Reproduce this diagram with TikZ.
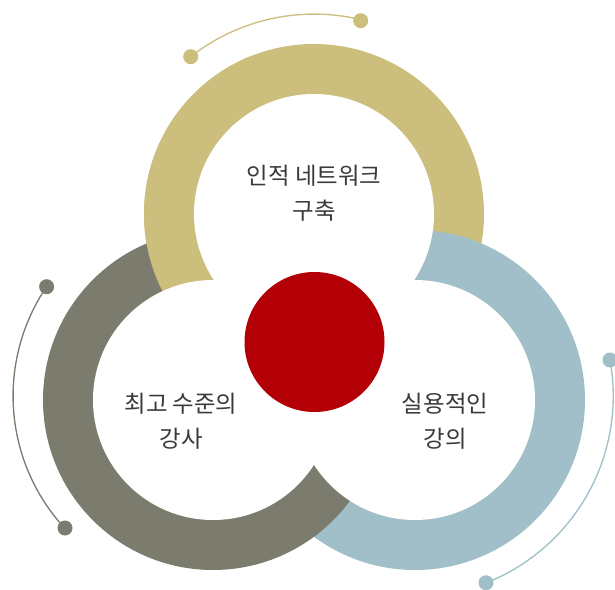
\documentclass[tikz,border=0pt]{standalone}
\usepackage{fontspec}
\newfontfamily\krfont{Noto Sans CJK KR}
\usepackage{tikz}
\definecolor{khaki}{HTML}{CCBE7D}
\definecolor{ringgray}{HTML}{7C7C6E}
\definecolor{ringblue}{HTML}{A0BFC8}
\definecolor{corered}{HTML}{B30006}
\definecolor{labeltext}{HTML}{3A3A3A}
\tikzset{
  dot/.style={circle, inner sep=0pt, minimum size=0.45cm},
  ringtext/.style={align=center, text=labeltext, font=\krfont\fontsize{20}{30}\selectfont}
}
\newcommand{\decoarc}[5]{
  \draw [color=#5, line width=0.04cm] (#1.center) arc [start angle=#2, end angle=#3, radius=#4]
}

\begin{document}
\begin{tikzpicture}[x=0.03cm, y=-0.03cm]
\useasboundingbox (0,0) rectangle (615,590);

% ring centres
\coordinate (T) at (314,214);
\coordinate (L) at (213,400);
\coordinate (R) at (415,400);

% rings: blue over khaki, gray over blue, khaki over gray
\fill [khaki]    (T) circle (170);
\fill [ringblue] (R) circle (170);
\fill [ringgray] (L) circle (170);
\begin{scope}
  \clip (0,0) rectangle (250,330);
  \fill [khaki] (T) circle (170);
\end{scope}

% holes
\fill [white] (T) circle (120);
\fill [white] (L) circle (120);
\fill [white] (R) circle (120);

% core
\node [circle, fill=corered, inner sep=0pt, minimum size=4.2cm] (C) at (314.5,342) {};

% labels
\node [ringtext] (N1) at (314,193) {인적 네트워크\\구축};
\node [ringtext] (N2) at (181,421) {최고 수준의\\강사};
\node [ringtext] (N3) at (445,421) {실용적인\\강의};

% dots of the top arc
\node [dot, fill=khaki] (D1) at (190.7, 56.7) {};
\node [dot, fill=khaki] (D2) at (360.7, 20.7) {};

% dots of the left arc
\node [dot, fill=ringgray] (D3) at ( 46.6,286.7) {};
\node [dot, fill=ringgray] (D4) at ( 65.0,528.0) {};

% dots of the right arc
\node [dot, fill=ringblue] (D5) at (610.0,360.0) {};
\node [dot, fill=ringblue] (D6) at (486.0,582.7) {};

% arcs
\decoarc {D1} {-128.1} {-76.4}  {200} {khaki};
\decoarc {D3} {-145.9} {-222.7} {195} {ringgray};
\decoarc {D5} {-10.3}  {68.4}   {201} {ringblue};

\end{tikzpicture}
\end{document}
